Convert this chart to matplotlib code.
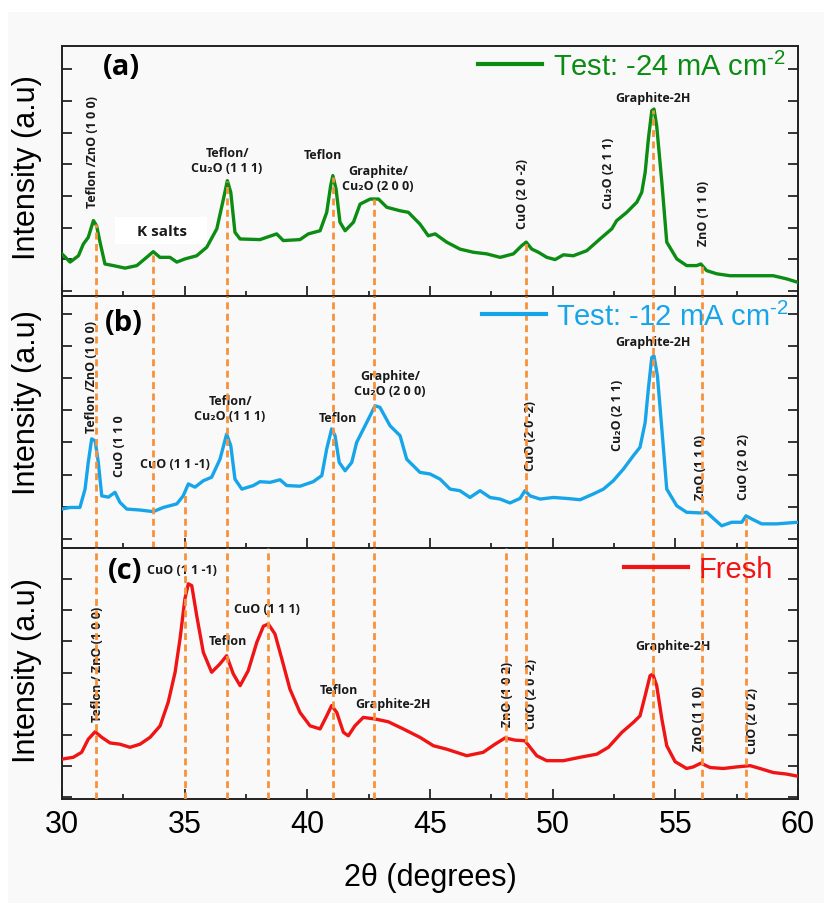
import numpy as np
import matplotlib
matplotlib.use("Agg")
import matplotlib.pyplot as plt
from matplotlib.patches import Rectangle

plt.rcParams['font.family'] = ['Liberation Sans', 'DejaVu Sans']
plt.rcParams['mathtext.fontset'] = 'custom'
plt.rcParams['mathtext.rm'] = 'Liberation Sans'
plt.rcParams['mathtext.it'] = 'Liberation Sans:italic'
plt.rcParams['mathtext.bf'] = 'Liberation Sans:bold'

# ---- data (2theta in degrees, intensity in a.u.) ----
xa = [30.0, 30.33, 30.67, 30.87, 31.07, 31.28, 31.41, 31.55, 31.75, 32.09, 32.57, 33.05, 33.45, 33.72, 33.99,
      34.40, 34.68, 35.01, 35.49, 35.90, 36.31, 36.58, 36.74, 36.88, 37.05, 37.26, 38.07, 38.75, 39.02, 39.70,
      40.04, 40.52, 40.79, 40.95, 41.04, 41.17, 41.33, 41.54, 41.88, 42.15, 42.56, 42.90, 43.24, 43.78, 44.12,
      44.59, 44.93, 45.21, 45.68, 46.22, 46.77, 47.31, 47.86, 48.40, 48.74, 48.92, 49.15, 49.42, 49.76, 50.10,
      50.44, 50.84, 51.39, 51.93, 52.41, 52.61, 53.02, 53.43, 53.63, 53.77, 53.90, 54.04, 54.13, 54.24, 54.45,
      54.65, 55.06, 55.46, 55.87, 56.04, 56.28, 56.69, 57.23, 58.05, 58.99, 59.54, 60.0]
ya = [1.17, 0.91, 1.11, 1.48, 1.69, 2.22, 2.06, 1.54, 0.85, 0.80, 0.72, 0.80, 1.06, 1.24, 1.06,
      1.06, 0.91, 1.01, 1.11, 1.38, 1.96, 2.90, 3.48, 3.11, 1.85, 1.64, 1.62, 1.80, 1.59, 1.62,
      1.80, 1.90, 2.48, 3.32, 3.64, 3.22, 2.17, 1.90, 2.17, 2.74, 2.90, 2.90, 2.64, 2.53, 2.48,
      2.11, 1.74, 1.80, 1.54, 1.32, 1.22, 1.17, 1.06, 1.17, 1.43, 1.54, 1.32, 1.22, 1.06, 0.99,
      1.14, 1.11, 1.27, 1.64, 1.96, 2.22, 2.48, 2.80, 3.11, 3.74, 4.79, 5.69, 5.74, 5.21, 3.43,
      1.54, 1.01, 0.80, 0.80, 0.85, 0.64, 0.54, 0.48, 0.48, 0.48, 0.38, 0.27]

xb = [30.0, 30.33, 30.73, 30.94, 31.07, 31.21, 31.35, 31.48, 31.62, 31.89, 32.16, 32.36, 32.64, 33.18, 33.72,
      34.13, 34.68, 34.94, 35.15, 35.42, 35.76, 36.10, 36.44, 36.71, 36.88, 37.05, 37.33, 37.80, 38.07, 38.48,
      38.89, 39.16, 39.70, 40.24, 40.59, 40.79, 40.99, 41.13, 41.30, 41.54, 41.81, 42.01, 42.42, 42.76, 42.96,
      43.37, 43.78, 44.05, 44.59, 45.00, 45.41, 45.82, 46.22, 46.63, 47.04, 47.45, 47.86, 48.26, 48.67, 48.87,
      49.08, 49.49, 50.03, 50.57, 51.12, 51.66, 52.07, 52.47, 52.88, 53.29, 53.56, 53.77, 53.90, 54.04, 54.13,
      54.27, 54.45, 54.65, 55.06, 55.46, 56.01, 56.28, 56.55, 56.89, 57.30, 57.71, 57.88, 58.12, 58.52, 59.13,
      60.0]
yb = [0.93, 0.98, 0.98, 1.55, 2.38, 3.11, 3.05, 2.38, 1.34, 1.30, 1.45, 1.14, 0.93, 0.90, 0.85,
      0.98, 1.09, 1.34, 1.71, 1.61, 1.81, 1.92, 2.48, 3.26, 2.90, 1.86, 1.55, 1.66, 1.78, 1.76,
      1.84, 1.66, 1.64, 1.78, 1.97, 2.80, 3.42, 3.21, 2.38, 2.12, 2.38, 3.00, 3.62, 4.14, 4.09,
      3.52, 3.21, 2.48, 2.07, 2.02, 1.86, 1.55, 1.50, 1.29, 1.50, 1.29, 1.24, 1.12, 1.26, 1.50,
      1.34, 1.24, 1.29, 1.26, 1.22, 1.40, 1.55, 1.81, 2.17, 2.59, 2.85, 3.62, 4.66, 5.64, 5.69,
      5.07, 3.42, 1.55, 1.03, 0.83, 0.81, 0.83, 0.64, 0.41, 0.52, 0.52, 0.72, 0.62, 0.47, 0.47,
      0.52]

xc = [30.0, 30.46, 30.80, 31.07, 31.35, 31.62, 31.96, 32.36, 32.77, 33.18, 33.59, 34.00, 34.33, 34.61, 34.81,
      35.01, 35.15, 35.29, 35.49, 35.76, 36.10, 36.44, 36.71, 36.98, 37.26, 37.59, 37.94, 38.21, 38.41, 38.68,
      38.96, 39.29, 39.70, 40.11, 40.52, 40.79, 40.99, 41.20, 41.47, 41.67, 41.94, 42.28, 42.76, 43.30, 43.91,
      44.59, 45.14, 45.68, 46.50, 47.17, 47.65, 48.06, 48.47, 48.87, 49.35, 49.76, 50.44, 51.12, 51.80, 52.27,
      52.82, 53.29, 53.56, 53.77, 53.97, 54.08, 54.24, 54.45, 54.65, 54.99, 55.46, 55.73, 56.04, 56.42, 56.96,
      57.50, 58.05, 58.45, 58.99, 59.54, 60.0]
yc = [1.22, 1.28, 1.44, 1.86, 2.10, 1.92, 1.74, 1.70, 1.60, 1.70, 1.92, 2.29, 3.05, 4.01, 5.08,
      6.37, 6.85, 6.79, 5.83, 4.65, 4.01, 4.28, 4.54, 3.96, 3.58, 4.06, 4.97, 5.49, 5.56, 5.24,
      4.44, 3.47, 2.72, 2.29, 2.19, 2.61, 2.94, 2.72, 2.08, 1.97, 2.29, 2.56, 2.51, 2.42, 2.19,
      1.92, 1.65, 1.54, 1.33, 1.44, 1.70, 1.90, 1.83, 1.81, 1.33, 1.17, 1.17, 1.28, 1.38, 1.60,
      2.08, 2.40, 2.61, 3.26, 3.90, 3.95, 3.58, 2.51, 1.65, 1.14, 0.92, 0.97, 1.09, 0.95, 0.92,
      0.97, 1.01, 0.92, 0.79, 0.74, 0.67]

series_labels = [r'Test: -24 mA cm$^{\text{-2}}$', r'Test: -12 mA cm$^{\text{-2}}$', 'Fresh']
series_colors = ['#0b8c12', '#17a5ea', '#f01414']
panel_tags = ['(a)', '(b)', '(c)']

# reference peak positions (orange dashed guides)
peak_pos = [31.37, 33.72, 35.02, 36.74, 38.40, 41.03, 42.73, 48.08, 48.90, 54.08, 56.07, 57.89]
peak_first = [0, 0, 1, 0, 2, 0, 0, 2, 0, 0, 0, 1]   # panel where the guide begins
peak_last = [2, 1, 2, 2, 2, 2, 2, 2, 2, 2, 2, 2]    # panel where it ends

# peak labels: (panel, x, y, text, rotation)
peak_labels = [
    (0, 31.24, 4.42, 'Teflon /ZnO (1 0 0)', 90),
    (0, 36.73, 4.13, 'Teflon/\nCu₂O (1 1 1)', 0),
    (0, 40.64, 4.32, 'Teflon', 0),
    (0, 42.88, 3.56, 'Graphite/\nCu₂O (2 0 0)', 0),
    (0, 48.75, 3.09, 'CuO (2 0 -2)', 90),
    (0, 52.26, 3.75, 'Cu₂O (2 1 1)', 90),
    (0, 54.09, 6.12, 'Graphite-2H', 0),
    (0, 56.13, 2.49, 'ZnO (1 1 0)', 90),
    (1, 31.22, 5.06, 'Teflon /ZnO (1 0 0)', 90),
    (1, 32.36, 2.92, 'CuO (1 1 0', 90),
    (1, 34.61, 2.33, 'CuO (1 1 -1)', 0),
    (1, 36.85, 4.07, 'Teflon/\nCu₂O (1 1 1)', 0),
    (1, 41.25, 3.79, 'Teflon', 0),
    (1, 43.37, 4.84, 'Graphite/\nCu₂O (2 0 0)', 0),
    (1, 49.08, 3.23, 'CuO (2 0 -2)', 90),
    (1, 52.63, 3.88, 'Cu₂O (2 1 1)', 90),
    (1, 54.09, 6.15, 'Graphite-2H', 0),
    (1, 56.01, 2.24, 'ZnO (1 1 0)', 90),
    (1, 57.76, 2.27, 'CuO (2 0 2)', 90),
    (2, 34.89, 7.30, 'CuO (1 1 -1)', 0),
    (2, 38.36, 6.05, 'CuO (1 1 1)', 0),
    (2, 36.77, 5.02, 'Teflon', 0),
    (2, 31.43, 4.31, 'Teflon / ZnO (1 0 0)', 90),
    (2, 41.29, 3.47, 'Teflon', 0),
    (2, 43.49, 3.02, 'Graphite-2H', 0),
    (2, 48.14, 3.34, 'ZnO (1 0 2)', 90),
    (2, 49.12, 3.34, 'CuO (2 0 -2)', 90),
    (2, 54.91, 4.86, 'Graphite-2H', 0),
    (2, 55.93, 2.57, 'ZnO (1 1 0)', 90),
    (2, 58.13, 2.48, 'CuO (2 0 2)', 90),
]

# ---- layout ----
W, H = 824, 904
fig = plt.figure(figsize=(W / 100, H / 100), dpi=100, facecolor='white')
fig.patches.append(Rectangle((8 / W, 0), 1 - 8 / W, 1 - 13 / H, transform=fig.transFigure,
                             facecolor='#f9f9f9', edgecolor='none', zorder=-10))

panel_px = [(47, 297), (297, 549), (549, 800)]
ylims = [(-0.16, 7.73), (-0.28, 7.55), (-0.06, 8.0)]
ylab_y = [168, 403, 671]
leg_anchor = [(0.983, 0.92), (0.988, 0.921), (0.966, 0.916)]
tag_pos = [(32.41, 7.07), (32.53, 6.74), (32.57, 7.27)]

xs_all = [xa, xb, xc]
ys_all = [ya, yb, yc]
orange = '#f7923c'

axes = []
for i, (top, bot) in enumerate(panel_px):
    ax = fig.add_axes([62 / W, 1 - bot / H, 736 / W, (bot - top) / H])
    ax.set_facecolor('none')
    axes.append(ax)
    ax.plot(xs_all[i], ys_all[i], color=series_colors[i], lw=2.4, label=series_labels[i], zorder=3)
    ax.set_xlim(30, 60)
    ax.set_ylim(*ylims[i])
    ax.set_yticks(range(8))
    ax.set_yticklabels([])
    ax.set_xticks(np.arange(30, 61, 5))
    ax.set_xticks(np.arange(30, 60.1, 2.5), minor=True)
    ax.tick_params(axis='both', which='major', direction='in', length=7, width=1.1,
                   right=True, top=False, labelsize=22, pad=7)
    ax.tick_params(axis='x', which='minor', direction='in', length=3.5, width=1.1, top=False)
    ax.tick_params(axis='y', which='minor', left=False, right=False)
    if i < 2:
        ax.set_xticklabels([])
    for s in ax.spines.values():
        s.set_linewidth(1.4)
        s.set_color('#222222')

    leg = ax.legend(loc='center right', bbox_to_anchor=leg_anchor[i], frameon=False, fontsize=21,
                    handlelength=2.2, handletextpad=0.35, borderpad=0, borderaxespad=0,
                    labelcolor=series_colors[i])
    for ln in leg.get_lines():
        ln.set_linewidth(3)

    ax.text(tag_pos[i][0], tag_pos[i][1], panel_tags[i], fontsize=21, fontweight='bold',
            family=['Open Sans', 'DejaVu Sans'], ha='center', va='center', zorder=6)
    fig.text(27 / W, 1 - ylab_y[i] / H, 'Intensity (a.u)', rotation=90, fontsize=22,
             ha='center', va='center')

axes[2].set_xlabel('2θ (degrees)', fontsize=22, labelpad=17)

# dashed reference lines
for x, p0, p1 in zip(peak_pos, peak_first, peak_last):
    for i in range(p0, p1 + 1):
        ax = axes[i]
        lo = ylims[i][0]
        if i == p0 and p0 < 2:
            hi = np.interp(x, xs_all[i], ys_all[i])
        else:
            hi = ylims[i][1]
        ax.vlines(x, lo, hi, colors=orange, linestyles=(0, (2.5, 1.6)), lw=2, zorder=5)

for p, x, y, t, rot in peak_labels:
    axes[p].text(x, y, t, rotation=rot, fontsize=9, fontweight='bold', ha='center', va='center',
                 family=['Open Sans', 'DejaVu Sans'], color='#1a1a1a', zorder=4, linespacing=1.15)

# "K salts" with its white patch in panel (a)
axes[0].add_patch(Rectangle((32.16, 1.48), 3.75, 0.85, facecolor='white', edgecolor='none', zorder=4))
axes[0].text(34.08, 1.88, 'K salts', fontsize=11, fontweight='bold', ha='center', va='center',
             family=['Open Sans', 'DejaVu Sans'], color='#1a1a1a', zorder=4.5)

fig.savefig('out.png', dpi=100)
